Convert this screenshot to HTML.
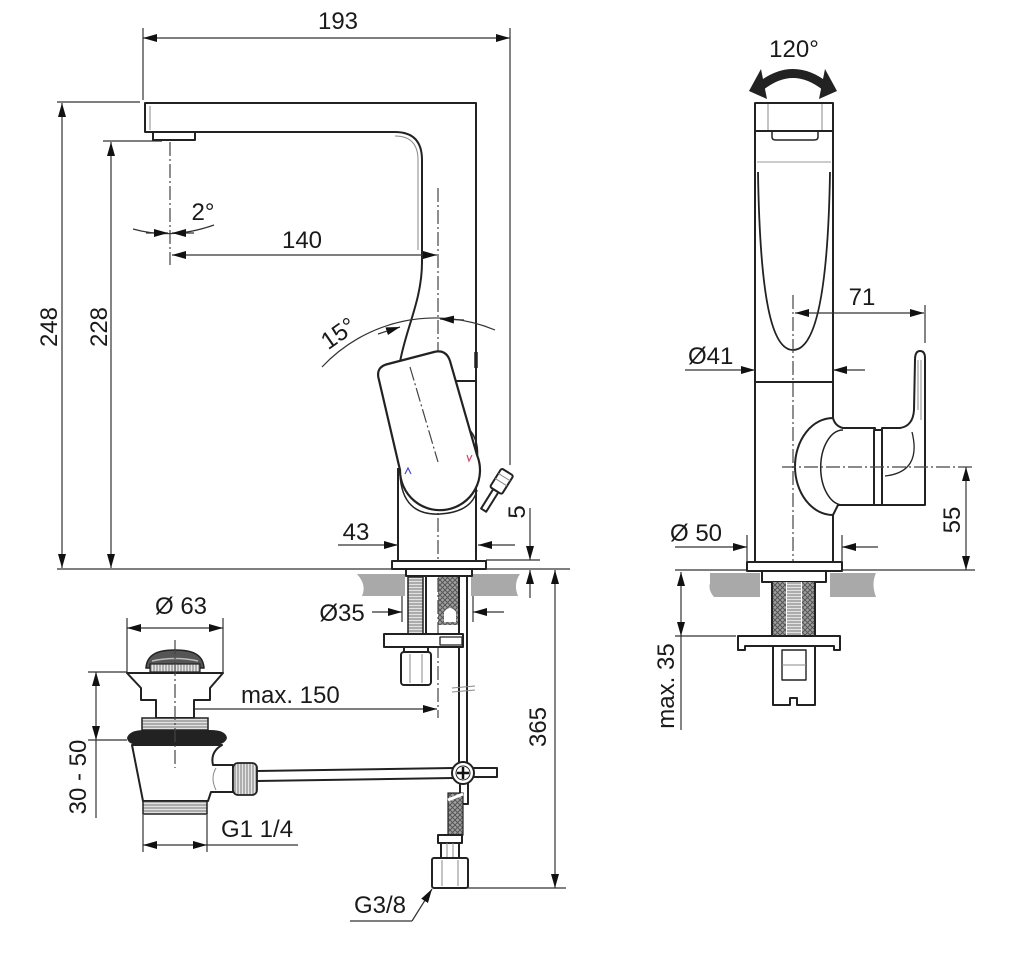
<!DOCTYPE html>
<html><head><meta charset="utf-8"><style>
html,body{margin:0;padding:0;background:#fff;}
svg{display:block;}
text{font-family:"Liberation Sans",Arial,sans-serif;font-size:24px;fill:#1a1a1a;}
.o{stroke:#222;stroke-width:2;fill:none;stroke-linejoin:round;}
.ow{stroke:#222;stroke-width:2;fill:#fff;stroke-linejoin:round;}
.d{stroke:#333;stroke-width:1.2;fill:none;}
.c{stroke:#444;stroke-width:1.2;fill:none;stroke-dasharray:14 3 2 3;}
.t{stroke:#888;stroke-width:1;fill:none;}
</style></head><body>
<svg width="1024" height="960" viewBox="0 0 1024 960" xmlns="http://www.w3.org/2000/svg">
<defs>
<marker id="a" viewBox="0 0 14 8" refX="14" refY="4" markerWidth="14" markerHeight="8" markerUnits="userSpaceOnUse" orient="auto-start-reverse"><path d="M0,0 L14,4 L0,8 z" fill="#111"/></marker>
<pattern id="hl" width="4" height="3" patternUnits="userSpaceOnUse"><rect width="4" height="3" fill="#e2e2e2"/><line x1="0" y1="1" x2="4" y2="1" stroke="#777" stroke-width="1"/></pattern>
<pattern id="vl" width="3" height="4" patternUnits="userSpaceOnUse"><rect width="3" height="4" fill="#e6e6e6"/><line x1="1" y1="0" x2="1" y2="4" stroke="#777" stroke-width="1"/></pattern>
<pattern id="xh" width="5" height="5" patternUnits="userSpaceOnUse"><rect width="5" height="5" fill="#a0a0a0"/><path d="M0,0 L5,5 M5,0 L0,5" stroke="#555" stroke-width="1"/></pattern>
</defs>

<!-- ============ LEFT VIEW ============ -->
<!-- 193 -->
<line class="d" x1="143" y1="28" x2="143" y2="100"/>
<line class="d" x1="510" y1="28" x2="510" y2="465"/>
<line class="d" x1="143" y1="38" x2="510" y2="38" marker-start="url(#a)" marker-end="url(#a)"/>
<text x="338" y="29" text-anchor="middle">193</text>

<!-- 248 / 228 -->
<line class="d" x1="57" y1="102" x2="140" y2="102"/>
<line class="d" x1="62" y1="103" x2="62" y2="568" marker-start="url(#a)" marker-end="url(#a)"/>
<text transform="translate(57,327) rotate(-90)" text-anchor="middle">248</text>
<line class="d" x1="103" y1="141" x2="162" y2="141"/>
<line class="d" x1="111" y1="142" x2="111" y2="568" marker-start="url(#a)" marker-end="url(#a)"/>
<text transform="translate(107,327) rotate(-90)" text-anchor="middle">228</text>
<line class="d" x1="57" y1="569" x2="570" y2="569"/>

<!-- spout + body -->
<path class="o" d="M476,562 L476,103 L145,103 L145,132 L395,132 Q422,132 422,160 L422,262 C422,300 406,328 400,362"/>
<path class="t" d="M150,106 L150,130"/>
<path class="t" d="M395,136 Q418,136 418,160 L418,250"/>
<rect class="ow" x="153" y="132" width="42" height="8"/>
<line class="c" x1="170" y1="142" x2="170" y2="265"/>

<!-- 2° -->
<path class="d" d="M133,229 Q172,240 214,225"/>
<line class="d" x1="146" y1="233" x2="168" y2="233" marker-end="url(#a)"/>
<line class="d" x1="194" y1="233" x2="172" y2="233" marker-end="url(#a)"/>
<text x="203" y="220" text-anchor="middle">2°</text>

<!-- 140 -->
<line class="d" x1="172" y1="255" x2="437" y2="255" marker-start="url(#a)" marker-end="url(#a)"/>
<text x="302" y="248" text-anchor="middle">140</text>
<line class="c" x1="438" y1="188" x2="438" y2="560"/>

<!-- 15° -->
<path class="d" d="M322,367 A155,155 0 0 1 495,330"/>
<line class="d" x1="378" y1="334" x2="400" y2="327" marker-end="url(#a)"/>
<line class="d" x1="464" y1="320" x2="440" y2="319" marker-end="url(#a)"/>
<text transform="translate(343,340) rotate(-35)" text-anchor="middle">15°</text>

<!-- body details -->
<line class="o" x1="455" y1="381" x2="476" y2="381"/>
<line x1="476" y1="352" x2="476" y2="368" stroke="#222" stroke-width="3.5"/>
<line class="o" x1="398" y1="468" x2="398" y2="562"/>
<path class="o" d="M400,474 Q402,516 440,514 Q472,512 477,490" style="stroke-width:1.5"/>
<path class="o" d="M468,428 Q480,440 477,462" style="stroke-width:1.5"/>

<!-- handle -->
<path d="M379,380 Q375,367 388,364 L434,352 Q446,349 450,361 L477,455 A40,40 0 1 1 400,470 Z" fill="#fff" stroke="#222" stroke-width="2.2"/>
<line class="c" x1="410" y1="367" x2="438" y2="462"/>
<path d="M405,474 l3,-6 l3,6" stroke="#4a4ad0" stroke-width="1.2" fill="none"/>
<path d="M467,455 l2,6 l3,-6" stroke="#d04a6a" stroke-width="1.2" fill="none"/>

<!-- knob -->
<g transform="rotate(32 490 500)">
<rect class="ow" x="487" y="489" width="6" height="23"/>
<rect class="ow" x="483" y="467" width="14" height="22" rx="2"/>
<line class="t" x1="483" y1="473" x2="497" y2="473"/>
<line class="t" x1="483" y1="479" x2="497" y2="479"/>
</g>

<!-- 43 -->
<line class="d" x1="338" y1="545" x2="398" y2="545" marker-end="url(#a)"/>
<line class="d" x1="515" y1="545" x2="478" y2="545" marker-end="url(#a)"/>
<text x="356" y="540" text-anchor="middle">43</text>

<!-- 5 -->
<line class="d" x1="486" y1="560" x2="540" y2="560"/>
<line class="d" x1="530" y1="508" x2="530" y2="560" marker-end="url(#a)"/>
<line class="d" x1="530" y1="598" x2="530" y2="570" marker-end="url(#a)"/>
<text transform="translate(525,512) rotate(-90)" text-anchor="middle">5</text>

<!-- countertop + flange -->
<path d="M357,574 L520,574 Q513,584 518,596 L362,596 Q367,585 357,574 Z" fill="#a9a9a9"/>
<rect x="405" y="575" width="66" height="60" fill="#fff"/>
<rect class="ow" x="392" y="561" width="94" height="8"/>
<rect class="ow" x="406" y="569" width="66" height="7"/>

<!-- shank -->
<rect x="408" y="577" width="15" height="57" fill="url(#hl)" stroke="#222" stroke-width="1.5"/>
<line class="o" x1="426" y1="577" x2="426" y2="634"/>
<rect x="438" y="577" width="20" height="48" fill="url(#xh)"/>
<path d="M444,612 q6,-8 12,0 l0,10 l-12,0z" fill="#fff"/>
<line class="o" x1="459" y1="577" x2="459" y2="763"/>
<line class="o" x1="467" y1="577" x2="467" y2="763"/>
<line class="c" x1="438" y1="578" x2="438" y2="718"/>

<!-- Ø35 -->
<text x="342" y="621" text-anchor="middle">Ø35</text>
<line class="d" x1="402" y1="596" x2="402" y2="622"/>
<line class="d" x1="473" y1="596" x2="473" y2="622"/>
<line class="d" x1="372" y1="612" x2="402" y2="612" marker-end="url(#a)"/>
<line class="d" x1="504" y1="612" x2="473" y2="612" marker-end="url(#a)"/>

<!-- plate + fitting -->
<rect class="ow" x="384" y="634" width="79" height="13"/>
<rect class="o" x="440" y="637" width="22" height="8" style="stroke-width:1.3"/>
<rect class="ow" x="404" y="647" width="24" height="5"/>
<rect class="ow" x="401" y="652" width="30" height="33" rx="3"/>
<line class="t" x1="410" y1="654" x2="410" y2="683"/>
<line class="t" x1="422" y1="654" x2="422" y2="683"/>
<line class="t" x1="452" y1="688" x2="475" y2="686"/>
<line class="t" x1="452" y1="692" x2="475" y2="690"/>

<!-- max. 150 -->
<text x="241" y="703">max. 150</text>
<line class="d" x1="178" y1="709" x2="437" y2="709" marker-start="url(#a)" marker-end="url(#a)"/>

<!-- rod + cross -->
<path class="o" d="M257,771 L453,768 M257,781 L453,778"/>
<rect class="ow" x="470" y="768" width="27" height="9"/>
<rect class="ow" x="460" y="783" width="8" height="21"/>
<circle cx="463" cy="773" r="11" fill="#fff" stroke="#222" stroke-width="2"/>
<circle cx="463" cy="773" r="7" fill="none" stroke="#222" stroke-width="1"/>
<path d="M463,767 V779 M457,773 H469" stroke="#111" stroke-width="2.5"/>

<!-- lower hose -->
<rect x="448" y="793" width="15" height="42" fill="url(#xh)" stroke="#222" stroke-width="1.2"/>
<path d="M448,800 l15,-6" stroke="#fff" stroke-width="3"/>
<rect class="ow" x="438" y="835" width="24" height="8"/>
<rect class="ow" x="441" y="843" width="18" height="15"/>
<line class="t" x1="447" y1="843" x2="447" y2="858"/>
<line class="t" x1="453" y1="843" x2="453" y2="858"/>
<rect class="ow" x="432" y="858" width="36" height="30" rx="2"/>
<line class="t" x1="442" y1="860" x2="442" y2="886"/>
<line class="t" x1="458" y1="860" x2="458" y2="886"/>

<!-- 365 -->
<line class="d" x1="468" y1="888" x2="566" y2="888"/>
<line class="d" x1="555" y1="570" x2="555" y2="888" marker-start="url(#a)" marker-end="url(#a)"/>
<text transform="translate(546,727) rotate(-90)" text-anchor="middle">365</text>

<!-- G3/8 -->
<text x="380" y="913" text-anchor="middle">G3/8</text>
<polyline class="d" points="350,921 412,921"/>
<line class="d" x1="412" y1="921" x2="432" y2="889" marker-end="url(#a)"/>

<!-- ============ WASTE ============ -->
<line class="d" x1="127" y1="618" x2="127" y2="673"/>
<line class="d" x1="223" y1="618" x2="223" y2="673"/>
<line class="d" x1="127" y1="628" x2="223" y2="628" marker-start="url(#a)" marker-end="url(#a)"/>
<text x="181" y="614" text-anchor="middle">Ø 63</text>

<path d="M146,668 C147,653 160,650 175,650 C190,650 203,653 204,668 Z" fill="#555" stroke="#222" stroke-width="1.5"/>
<path d="M152,661 Q175,656 198,661" stroke="#bbb" stroke-width="1.5" fill="none"/>
<rect x="150" y="664" width="50" height="8" fill="url(#vl)" stroke="#222" stroke-width="1.2"/>
<path class="ow" d="M127,673 L223,673 L210,688 L210,700 L194,700 L194,718 L156,718 L156,700 L141,700 L141,688 Z"/>
<rect x="142" y="718" width="66" height="12" fill="url(#hl)" stroke="#222" stroke-width="1.5"/>
<path d="M127,738 Q129,730 145,730 L210,730 Q226,730 227,738 Q225,745 213,745 L140,745 Q128,745 127,738 Z" fill="#222"/>
<path class="ow" d="M132,745 L143,801 L208,801 L211,792 L233,792 L233,765 L213,765 Q210,752 222,745 Z"/>
<path class="t" d="M216,768 Q210,778 216,790"/>
<rect x="143" y="801" width="64" height="13" fill="url(#hl)" stroke="#222" stroke-width="1.5"/>
<rect x="233" y="763" width="24" height="32" rx="5" fill="url(#vl)" stroke="#222" stroke-width="1.8"/>
<line class="c" x1="175" y1="640" x2="175" y2="768"/>

<!-- 30 - 50 -->
<line class="d" x1="88" y1="672" x2="127" y2="672"/>
<line class="d" x1="88" y1="740" x2="127" y2="740"/>
<line class="d" x1="96" y1="672" x2="96" y2="740" marker-start="url(#a)" marker-end="url(#a)"/>
<line class="d" x1="96" y1="740" x2="96" y2="818"/>
<text transform="translate(86,777) rotate(-90)" text-anchor="middle">30 - 50</text>

<!-- G1 1/4 -->
<line class="d" x1="143" y1="815" x2="143" y2="852"/>
<line class="d" x1="207" y1="815" x2="207" y2="852"/>
<line class="d" x1="143" y1="845" x2="207" y2="845" marker-start="url(#a)" marker-end="url(#a)"/>
<line class="d" x1="207" y1="845" x2="298" y2="845"/>
<text x="221" y="837">G1 1/4</text>

<!-- ============ RIGHT VIEW ============ -->
<text x="794" y="57" text-anchor="middle">120°</text>
<path d="M761,86 Q793,61 825,86" stroke="#222" stroke-width="9" fill="none"/>
<polygon points="749,91 761,69 767,99" fill="#222"/>
<polygon points="837,91 825,69 819,99" fill="#222"/>

<rect class="ow" x="755" y="103" width="78" height="28"/>
<line class="t" x1="768" y1="104" x2="768" y2="130"/>
<line class="t" x1="822" y1="104" x2="822" y2="130"/>
<path class="o" d="M772,131 L772,137 Q772,140 776,140 L814,140 Q818,140 818,137 L818,131" style="stroke-width:1.5"/>
<line x1="757" y1="162" x2="831" y2="162" stroke="#999" stroke-width="1"/>
<line class="o" x1="755" y1="131" x2="755" y2="562"/>
<line class="o" x1="833" y1="131" x2="833" y2="418"/>
<line class="o" x1="833" y1="515" x2="833" y2="562"/>
<path class="o" d="M758,172 C760,300 772,350 793,350 C814,350 828,300 830,172" style="stroke-width:1.8"/>
<line class="c" x1="793" y1="295" x2="793" y2="600"/>

<!-- 71 -->
<line class="d" x1="925" y1="305" x2="925" y2="343"/>
<line class="d" x1="795" y1="313" x2="924" y2="313" marker-start="url(#a)" marker-end="url(#a)"/>
<text x="862" y="305" text-anchor="middle">71</text>

<!-- Ø41 -->
<text x="688" y="364">Ø41</text>
<line class="d" x1="685" y1="370" x2="755" y2="370" marker-end="url(#a)"/>
<line class="d" x1="865" y1="370" x2="833" y2="370" marker-end="url(#a)"/>
<line class="o" x1="755" y1="382" x2="833" y2="382"/>

<!-- connector + lever -->
<path class="ow" d="M833,418 A38,48.5 0 0 0 833,515 L838,505 L875,505 L875,428 L843,428 Q835,426 833,418 Z"/>
<path class="o" d="M843,430 A22,37 0 0 0 843,505" style="stroke-width:1.5"/>
<rect class="ow" x="874" y="430" width="8" height="75"/>
<path class="ow" d="M882,428 L900,428 Q913,426 914,410 L915,360 Q915,351 920,351 Q925,351 925,358 L925,505 L882,505 Z"/>
<path class="t" d="M918,360 L918,410 M921,360 L921,420"/>
<path class="o" d="M912,432 Q922,472 885,476" style="stroke-width:1.3"/>

<!-- 55 -->
<line class="c" x1="782" y1="467" x2="972" y2="467"/>
<line class="d" x1="966" y1="467" x2="966" y2="570" marker-start="url(#a)" marker-end="url(#a)"/>
<text transform="translate(960,520) rotate(-90)" text-anchor="middle">55</text>

<!-- Ø50 -->
<text x="670" y="541">Ø 50</text>
<line class="d" x1="747" y1="535" x2="747" y2="562"/>
<line class="d" x1="842" y1="535" x2="842" y2="562"/>
<line class="d" x1="675" y1="547" x2="747" y2="547" marker-end="url(#a)"/>
<line class="d" x1="878" y1="547" x2="842" y2="547" marker-end="url(#a)"/>

<!-- base -->
<line class="d" x1="675" y1="570" x2="975" y2="570"/>
<path d="M710,573 L760,573 L760,597 L714,597 Q708,590 710,583 Z" fill="#a9a9a9"/>
<path d="M830,573 L876,573 Q871,584 876,597 L830,597 Z" fill="#a9a9a9"/>
<rect class="ow" x="747" y="562" width="95" height="9"/>
<rect class="ow" x="762" y="571" width="64" height="11"/>
<rect x="772" y="582" width="43" height="54" fill="#fff"/>
<rect x="773" y="582" width="13" height="54" fill="url(#xh)"/>
<rect x="802" y="582" width="13" height="54" fill="url(#xh)"/>
<rect x="787" y="582" width="14" height="54" fill="url(#hl)"/>
<line class="o" x1="772" y1="582" x2="772" y2="636"/>
<line class="o" x1="815" y1="582" x2="815" y2="636"/>
<path class="ow" d="M738,636 L840,636 L840,650 L834,650 L834,646 L745,646 L745,650 L738,650 Z"/>
<path class="o" d="M773,646 L773,705 L790,705 L790,698 L797,698 L797,705 L815,705 L815,646"/>
<rect class="o" x="782" y="650" width="24" height="30" style="stroke-width:1.4"/>
<line class="t" x1="782" y1="665" x2="806" y2="665"/>

<!-- max. 35 -->
<line class="d" x1="675" y1="636" x2="736" y2="636"/>
<line class="d" x1="681" y1="572" x2="681" y2="636" marker-start="url(#a)" marker-end="url(#a)"/>
<line class="d" x1="681" y1="636" x2="681" y2="730"/>
<text transform="translate(674,686) rotate(-90)" text-anchor="middle">max. 35</text>
</svg>
</body></html>
